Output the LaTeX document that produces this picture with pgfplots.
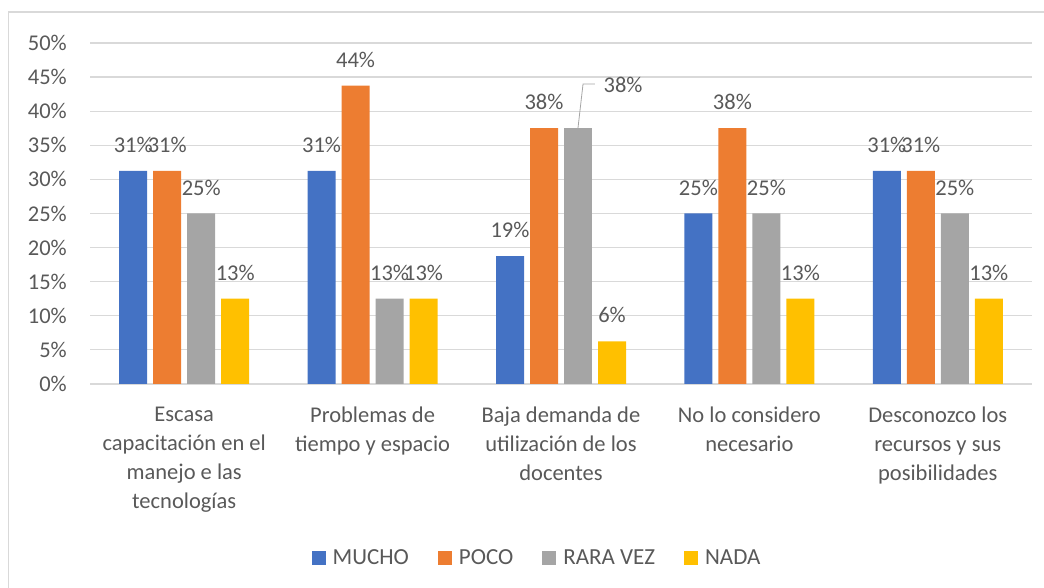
\documentclass[border=0pt]{standalone}
\usepackage{pgfplots}
\pgfplotsset{compat=1.18}
\usepackage{fontspec}
\setmainfont{Carlito}

\definecolor{mucho}{HTML}{4472C4}
\definecolor{poco}{HTML}{ED7D31}
\definecolor{raravez}{HTML}{A5A5A5}
\definecolor{nada}{HTML}{FFC000}
\definecolor{txt}{HTML}{595959}
\definecolor{gridc}{HTML}{D9D9D9}

\pgfplotstableread{
x y lbl
0 31.25 31
1 31.25 31
2 18.75 19
3 25.00 25
4 31.25 31
}\mucho
\pgfplotstableread{
x y lbl
0 31.25 31
1 43.75 44
2 37.50 38
3 37.50 38
4 31.25 31
}\poco
\pgfplotstableread{
x y lbl
0 25.00 25
1 12.50 13
3 25.00 25
4 25.00 25
}\raravez
\pgfplotstableread{
x y lbl
0 12.50 13
1 12.50 13
2 6.25 6
3 12.50 13
4 12.50 13
}\nada

\newcommand{\lbfont}{\fontsize{22.5}{29}\selectfont}

\begin{document}
\begin{tikzpicture}
\useasboundingbox (0pt,0pt) rectangle (1044pt,588pt);
\draw[gridc, line width=1.5pt] (8.5pt,0pt) -- (8.5pt,576pt) -- (1044pt,576pt);
\begin{axis}[
    at={(90pt,204pt)}, anchor=south west,
    scale only axis,
    width=942pt, height=341pt,
    xmin=-0.5, xmax=4.5,
    ymin=0, ymax=50,
    axis line style={draw=none},
    major tick length=0pt,
    ymajorgrids=true,
    major grid style={gridc, line width=1.2pt},
    ytick={0,5,...,50},
    yticklabels={0\%,5\%,10\%,15\%,20\%,25\%,30\%,35\%,40\%,45\%,50\%},
    yticklabel style={font=\lbfont, text=txt, inner sep=0pt, xshift=-23pt},
    xtick={0,1,2,3,4},
    xticklabels={{Escasa\\capacitación en el\\manejo e las\\tecnologías},
                 {Problemas de\\tiempo y espacio},
                 {Baja demanda de\\utilización de los\\docentes},
                 {No lo considero\\necesario},
                 {Desconozco los\\recursos y sus\\posibilidades}},
    xticklabel style={align=center, font=\lbfont, text=txt, inner sep=0pt, yshift=-23pt},
    ybar, bar width=28pt,
    point meta=explicit symbolic,
    nodes near coords={\pgfplotspointmeta\%},
    every node near coord/.append style={font=\lbfont, text=txt, inner sep=0pt, yshift=18pt},
    legend columns=-1,
    legend style={at={(0.4735,-0.51)}, anchor=center, draw=none, font=\fontsize{23}{29}\selectfont, text=txt,
        nodes={inner sep=0pt},
        /tikz/every odd column/.append style={column sep=7pt},
        /tikz/every even column/.append style={column sep=29pt}},
    legend image code/.code={\fill[#1] (0pt,-7pt) rectangle (14pt,7pt);},
    clip=false,
]
\addplot[fill=mucho, draw=none, bar shift=-51pt] table[x=x, y=y, meta=lbl] {\mucho};
\addplot[fill=poco, draw=none, bar shift=-17pt] table[x=x, y=y, meta=lbl] {\poco};
\addplot[fill=raravez, draw=none, bar shift=17pt] table[x=x, y=y, meta=lbl] {\raravez};
\addplot[fill=nada, draw=none, bar shift=51pt] table[x=x, y=y, meta=lbl] {\nada};
\legend{MUCHO, POCO, RARA VEZ, NADA}
% RARA VEZ bar of the third group, its label sits off to the side
\addplot[fill=raravez, draw=none, bar shift=17pt, nodes near coords={}, forget plot] coordinates {(2,37.5)};
\draw[raravez, line width=0.8pt] (axis cs:2.09,37.5) -- (axis cs:2.117,44) -- (axis cs:2.18,44);
\node[anchor=west, inner sep=0pt, font=\lbfont, text=txt] at (axis cs:2.225,43.8) {38\%};
\end{axis}
\end{tikzpicture}
\end{document}
